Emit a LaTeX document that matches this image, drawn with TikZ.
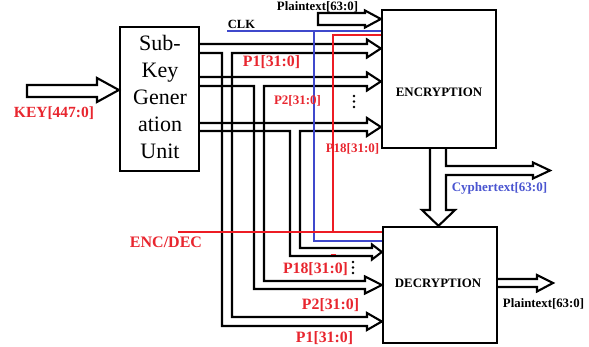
\documentclass[tikz,border=0pt]{standalone}
\usepackage{fontspec}
\setmainfont{Liberation Serif}
\definecolor{cred}{HTML}{ED1C24}
\definecolor{cblue}{HTML}{3F48CC}
\definecolor{tred}{HTML}{E8262F}
\definecolor{tblue}{HTML}{4A55D0}
\tikzset{
  blk/.style={draw=black, line width=2.3pt},
  pipe/.style={draw=black, line width=2.1pt, line join=miter},
  bluew/.style={draw=cblue, line width=2pt},
  redw/.style={draw=cred, line width=2pt},
  lbl/.style={inner sep=0pt, font=\bfseries\fontsize{#1}{#1}\selectfont},
  lbl/.default=13,
}
\begin{document}
\begin{tikzpicture}[x=1pt,y=-1pt]
\useasboundingbox (0,0) rectangle (589,347);
% boxes
\node[blk, minimum width=79pt, minimum height=144pt, inner sep=0pt] (sk) at (159.5,99) {};
\node[blk, minimum width=114pt, minimum height=138pt, inner sep=0pt] (enc) at (439,79) {};
\node[blk, minimum width=114pt, minimum height=116pt, inner sep=0pt] (dec) at (440,285) {};
\node[inner sep=0pt, align=center, font=\fontsize{22}{27}\selectfont] (sktxt) at (160,97) {Sub-\\Key\\Gener\\ation\\Unit};
\node[lbl=12.9] (enctxt) at (439,92) {ENCRYPTION};
\node[lbl=12.9] (dectxt) at (438,283) {DECRYPTION};

% KEY input arrow
\coordinate (keyin) at (27,85);
\draw[pipe] (keyin) -- (97,85) -- (97,78) -- (sk.west |- 0,90) -- (97,102) -- (97,97) -- (27,97) -- cycle;
% Plaintext input arrow
\draw[pipe] (318,13) -- (365,13) -- (365,10.5) -- (enc.west |- 0,19) -- (365,27.5) -- (365,25) -- (318,25) -- cycle;
% Cyphertext / down arrow
\draw[pipe] (430,148) -- (430,210) -- (422,210) -- (dec.north -| 438.5,0) -- (455,210) -- (446,210) -- (446,175) -- (533,175) -- (533,178.5) -- (550,170.5) -- (533,162.5) -- (533,166) -- (446,166) -- (446,148);
% Plaintext output arrow
\draw[pipe] (dec.east |- 0,279) -- (537,279) -- (537,275) -- (553,283) -- (537,291.5) -- (537,287) -- (dec.east |- 0,287);

% P1 pipe
\draw[pipe] (sk.east |- 0,44) -- (367,44) -- (367,39.5) -- (enc.west |- 0,48.5) -- (367,57.5) -- (367,53) -- (232,53) -- (232,317) -- (367,317) -- (367,313) -- (dec.west |- 0,321.5) -- (367,330) -- (367,326) -- (222,326) -- (222,53) -- (sk.east |- 0,53);
% P2 pipe
\draw[pipe] (sk.east |- 0,77) -- (367,77) -- (367,72.5) -- (enc.west |- 0,81.5) -- (367,90.5) -- (367,86) -- (264,86) -- (264,281) -- (365,281) -- (365,276.5) -- (dec.west |- 0,285) -- (365,293.5) -- (365,289) -- (254,289) -- (254,86) -- (sk.east |- 0,86);
% P18 pipe
\draw[pipe] (sk.east |- 0,123) -- (367,123) -- (367,118) -- (enc.west |- 0,127) -- (367,136) -- (367,131) -- (300,131) -- (300,248) -- (372,248) -- (372,244.5) -- (dec.west |- 0,252) -- (372,259.5) -- (372,256) -- (290,256) -- (290,131) -- (sk.east |- 0,131);

% dots
\foreach \yy in {96,101.5,107} \fill (354,\yy) circle (1.4pt);
\foreach \yy in {262,267.5,273} \fill (353,\yy) circle (1.4pt);

% CLK (blue)
\coordinate (clk) at (227,31);
\draw[bluew] (clk) -- (enc.west |- 0,31);
\draw[bluew] (314,31) -- (314,241) -- (dec.west |- 0,241);
% ENC/DEC (red)
\coordinate (encdec) at (178,232);
\draw[redw] (enc.west |- 0,35) -- (333,35) -- (333,232);
\draw[redw] (encdec) -- (dec.west |- 0,232);
\draw[draw=cred, line width=0.9pt] (331,254) -- (336,254);

% labels
\node[lbl=12.8] (ptin) at (317.5,7) {Plaintext[63:0]};
\node[lbl=12.5] (clkl) at (241.5,24) {CLK};
\node[lbl=15.5, text=tred] (keyl) at (54,113) {KEY[447:0]};
\node[lbl=15.8, text=tred] (p1e) at (271.5,62) {P1[31:0]};
\node[lbl=13, text=tred] (p2e) at (297.5,101) {P2[31:0]};
\node[lbl=13, text=tred] (p18e) at (352.5,149) {P18[31:0]};
\node[lbl=13, text=tblue] (cyl) at (499.5,188) {Cyphertext[63:0]};
\node[lbl=16, text=tred] (edl) at (166,242) {ENC/DEC};
\node[lbl=15.8, text=tred] (p18d) at (315.5,269) {P18[31:0]};
\node[lbl=15.8, text=tred] (p2d) at (330.5,305) {P2[31:0]};
\node[lbl=15.8, text=tred] (p1d) at (324.5,338.5) {P1[31:0]};
\node[lbl=12.8] (ptout) at (543.5,304) {Plaintext[63:0]};
\end{tikzpicture}
\end{document}
